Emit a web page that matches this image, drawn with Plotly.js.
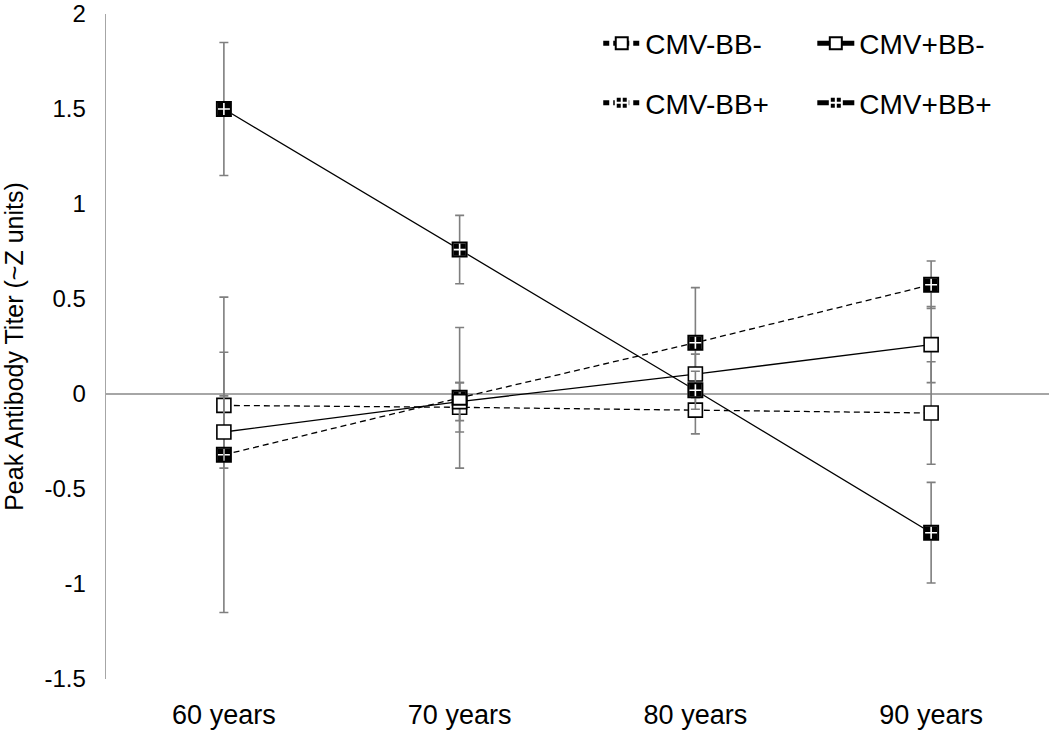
<!DOCTYPE html>
<html>
<head>
<meta charset="utf-8">
<script src="https://cdn.plot.ly/plotly-3.0.1.min.js"></script>
<style>html,body{margin:0;padding:0;background:#fff}#chart{width:1050px;height:732px}</style>
</head>
<body>
<div id="chart"></div>
<script>
const categories = ['60 years', '70 years', '80 years', '90 years'];
const seriesNames = ['CMV-BB-', 'CMV+BB-', 'CMV-BB+', 'CMV+BB+'];
const cmvNegBbNeg = [-0.06, -0.07, -0.085, -0.10];
const cmvNegBbNegErr = [0.28, 0.13, 0.125, 0.27];
const cmvPosBbNeg = [-0.20, -0.04, 0.105, 0.26];
const cmvPosBbNegErr = [0.19, 0.10, 0.105, 0.20];
const cmvNegBbPos = [-0.32, -0.02, 0.27, 0.575];
const cmvNegBbPosErr = [0.83, 0.37, 0.29, 0.125];
const cmvPosBbPos = [1.50, 0.76, 0.02, -0.73];
const cmvPosBbPosErr = [0.35, 0.18, 0.10, 0.265];
const yTickVals = [-1.5, -1, -0.5, 0, 0.5, 1, 1.5, 2];
const yTickText = ['-1.5', '-1', '-0.5', '0', '0.5', '1', '1.5', '2'];

const FONT = 'Liberation Sans, Arial, sans-serif';
const errStyle = (arr) => ({type: 'data', array: arr, symmetric: true, color: '#7f7f7f', thickness: 1.6, width: 4.5});

function series(name, y, err, dashed, filled, legend) {
  return {
    type: 'scatter', mode: 'lines+markers', name: name,
    x: categories, y: y, error_y: errStyle(err),
    legend: legend, legendgroup: name,
    line: {color: '#000', width: 1.3, dash: dashed ? '6px,4px' : 'solid'},
    marker: filled
      ? {symbol: 'square-cross', size: 14, color: '#000', line: {color: '#fff', width: 1.6}}
      : {symbol: 'square', size: 14, color: '#fff', line: {color: '#000', width: 1.6}}
  };
}
function outline(y) {
  return {
    type: 'scatter', mode: 'markers', x: categories, y: y, showlegend: false, hoverinfo: 'skip',
    marker: {symbol: 'square-open', size: 14, color: '#000', line: {color: '#000', width: 2}}
  };
}

const data = [
  series(seriesNames[0], cmvNegBbNeg, cmvNegBbNegErr, true, false, 'legend'),
  series(seriesNames[2], cmvNegBbPos, cmvNegBbPosErr, true, true, 'legend'),
  series(seriesNames[1], cmvPosBbNeg, cmvPosBbNegErr, false, false, 'legend2'),
  series(seriesNames[3], cmvPosBbPos, cmvPosBbPosErr, false, true, 'legend2'),
  outline(cmvNegBbPos),
  outline(cmvPosBbPos)
];

const legendCommon = {
  orientation: 'v', yanchor: 'top', xanchor: 'left', y: 0.993,
  font: {family: FONT, size: 28, color: '#000'},
  bgcolor: 'rgba(0,0,0,0)', borderwidth: 0,
  itemwidth: 37, itemsizing: 'constant', tracegroupgap: 20
};

const layout = {
  width: 1050, height: 732,
  margin: {l: 106, r: 1, t: 14, b: 53, pad: 0},
  paper_bgcolor: '#fff', plot_bgcolor: '#fff',
  font: {family: FONT, size: 26, color: '#000'},
  showlegend: true,
  legend: Object.assign({}, legendCommon, {x: 0.522}),
  legend2: Object.assign({}, legendCommon, {x: 0.749}),
  xaxis: {
    type: 'category', range: [-0.5, 3.5], showgrid: false, zeroline: false,
    showline: false, ticks: '', ticklabelstandoff: 17,
    tickfont: {family: FONT, size: 27, color: '#000'}, automargin: false
  },
  yaxis: {
    range: [-1.5, 2.0001], tickvals: yTickVals, ticktext: yTickText,
    showgrid: false, zeroline: true, zerolinecolor: '#a6a6a6', zerolinewidth: 1.3,
    showline: true, linecolor: '#a6a6a6', linewidth: 1.3, ticks: '',
    ticklabelstandoff: 14, ticklabeloverflow: 'allow',
    tickfont: {family: FONT, size: 24, color: '#000'}, automargin: false,
    title: {text: 'Peak Antibody Titer (~Z units)', font: {family: FONT, size: 25, color: '#000'}, standoff: 14}
  }
};

Plotly.newPlot('chart', data, layout, {staticPlot: true, displayModeBar: false});
</script>
</body>
</html>
